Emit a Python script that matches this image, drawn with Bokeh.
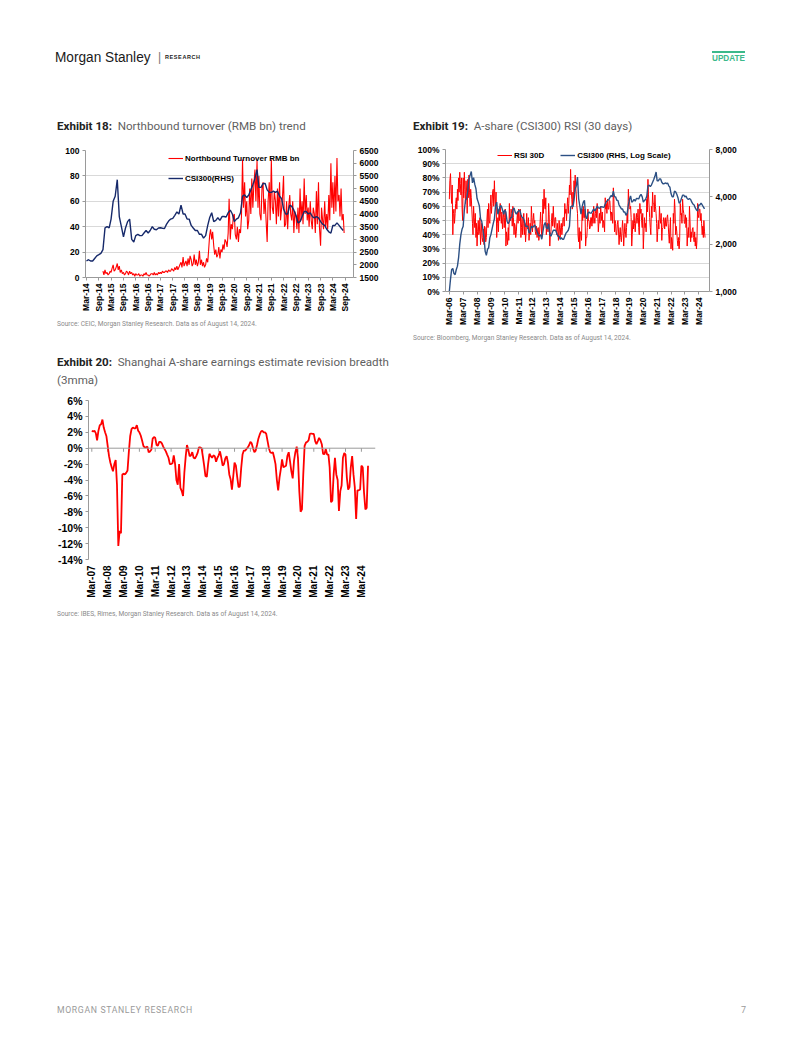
import math
from datetime import datetime
import pandas as pd
from bokeh.plotting import figure
from bokeh.models import (Range1d, LinearAxis, LogAxis, LogScale, FixedTicker,
                          DatetimeTickFormatter, NumeralTickFormatter, PrintfTickFormatter,
                          Legend, LegendItem, Span, Div, Spacer)
from bokeh.layouts import column, row
from bokeh.embed import file_html
from bokeh.resources import INLINE

# ---------------- DATA ----------------
# CSI300 index level, monthly, Mar-2006 .. Aug-2024
csi300_start = "2006-03-01"
csi300 = [
    1000, 1200, 1380, 1400, 1300, 1280, 1380, 1450, 1650, 2000,                  # 2006 Mar-Dec
    2300, 2500, 2600, 3300, 3800, 3900, 4400, 5200, 5500, 5800, 4900, 5300,      # 2007
    4800, 4500, 3900, 3700, 3500, 2900, 2800, 2500, 2200, 1800, 1700, 1850,      # 2008
    1900, 2200, 2300, 2500, 2700, 2900, 3500, 3700, 3100, 3300, 3500, 3500,      # 2009
    3300, 3100, 3300, 3200, 2800, 2700, 2800, 2950, 2950, 3300, 3400, 3200,      # 2010
    3100, 3200, 3250, 3300, 3100, 2950, 2950, 2800, 2600, 2600, 2600, 2350,      # 2011
    2400, 2600, 2550, 2600, 2650, 2500, 2400, 2300, 2250, 2300, 2150, 2400,      # 2012
    2650, 2750, 2550, 2500, 2700, 2300, 2250, 2350, 2450, 2450, 2450, 2350,      # 2013
    2250, 2250, 2150, 2200, 2150, 2150, 2250, 2350, 2400, 2450, 2600, 3450,      # 2014
    3500, 3450, 3800, 4500, 4700, 5350, 3900, 3500, 3100, 3450, 3700, 3800,      # 2015
    3000, 2900, 3150, 3200, 3150, 3150, 3250, 3350, 3250, 3350, 3500, 3400,      # 2016
    3380, 3450, 3460, 3440, 3430, 3600, 3720, 3800, 3830, 3950, 4080, 4000,      # 2017
    4350, 4000, 4000, 3800, 3800, 3550, 3450, 3350, 3350, 3200, 3200, 3050,      # 2018
    3150, 3550, 3850, 4050, 3700, 3750, 3850, 3750, 3900, 3900, 3880, 4050,      # 2019
    4150, 4000, 3700, 3800, 3850, 4050, 4700, 4750, 4650, 4750, 4950, 5150,      # 2020
    5400, 5750, 5050, 5050, 5200, 5200, 4950, 4850, 4850, 4900, 4850, 4900,      # 2021
    4700, 4600, 4200, 4000, 4000, 4350, 4300, 4150, 3950, 3650, 3700, 3900,      # 2022
    4100, 4100, 4000, 4050, 3900, 3850, 3900, 3850, 3700, 3600, 3550, 3400,      # 2023
    3300, 3250, 3550, 3550, 3650, 3550, 3450, 3350,                              # 2024 Jan-Aug
]

# Northbound turnover (RMB bn), semi-monthly, Nov-2014 .. Aug-2024
nb_start = "2014-11-01"
nb_turnover = [
    5, 2, 6, 3,                                                                                  # 2014 Nov-Dec
    4, 2, 3, 5, 4, 7, 10, 5, 6, 8, 11, 6, 9, 4, 6, 3, 4, 2, 3, 5, 4, 2, 5, 3,                      # 2015
    4, 2, 3, 1, 3, 2, 2, 3, 1, 2, 2, 1, 3, 2, 4, 2, 2, 1, 2, 3, 3, 2, 4, 2,                        # 2016
    3, 2, 4, 3, 4, 3, 5, 4, 4, 5, 5, 4, 6, 5, 5, 7, 6, 5, 8, 6, 9, 6, 8, 10,                       # 2017
    12, 8, 16, 9, 11, 13, 9, 15, 10, 17, 14, 9, 11, 18, 10, 14, 9, 12, 21, 10, 14, 9, 12, 8,     # 2018
    10, 15, 12, 22, 33, 38, 30, 36, 25, 18, 22, 16, 18, 24, 15, 22, 20, 26, 22, 30, 28, 24, 35, 62,  # 2019
    30, 42, 38, 48, 50, 34, 30, 40, 28, 38, 35, 48, 93, 55, 75, 48, 60, 38, 45, 70, 50, 78, 55, 72,  # 2020
    85, 60, 92, 55, 80, 50, 45, 70, 75, 50, 62, 45, 28, 60, 75, 45, 93, 55, 50, 68, 60, 42, 70, 48,  # 2021
    75, 45, 55, 65, 80, 40, 42, 60, 38, 55, 65, 50, 45, 60, 35, 52, 48, 38, 55, 35, 70, 45, 60, 42,  # 2022
    78, 50, 65, 45, 55, 40, 60, 45, 38, 55, 50, 35, 68, 42, 75, 40, 25, 55, 45, 38, 60, 40, 50, 38,  # 2023
    65, 45, 90, 55, 75, 50, 80, 52, 94, 60, 65, 48, 70, 45, 50, 35,                                  # 2024 Jan-Aug
]

# CSI300 RSI (30 days), %, semi-monthly, Mar-2006 .. Aug-2024
rsi_start = "2006-03-01"
rsi_30d = [
    65, 78, 83, 70, 62, 75, 40, 55, 58, 48, 55, 62, 66, 58, 72, 64, 80, 70, 84, 76,                      # 2006 Mar-Dec
    68, 80, 58, 50, 80, 66, 84, 72, 62, 78, 70, 55, 79, 66, 82, 70, 60, 72, 66, 58, 48, 40, 60, 52,      # 2007
    45, 55, 38, 48, 32, 42, 50, 40, 42, 52, 33, 40, 48, 38, 35, 44, 33, 46, 45, 35, 38, 50, 58, 45,      # 2008
    62, 50, 48, 60, 68, 55, 62, 70, 72, 60, 78, 65, 60, 70, 38, 48, 52, 42, 58, 50, 62, 54, 48, 56,      # 2009
    44, 52, 55, 45, 52, 58, 32, 42, 38, 33, 45, 36, 62, 50, 50, 58, 55, 46, 60, 52, 40, 48, 46, 38,      # 2010
    42, 50, 56, 48, 58, 50, 50, 58, 38, 45, 52, 40, 48, 55, 40, 48, 35, 42, 55, 45, 44, 52, 36, 42,      # 2011
    48, 40, 60, 52, 42, 50, 55, 48, 50, 42, 40, 46, 38, 44, 45, 36, 40, 47, 56, 48, 38, 44, 65, 55,      # 2012
    72, 60, 58, 66, 40, 48, 48, 42, 62, 54, 32, 40, 42, 50, 55, 46, 60, 50, 45, 52, 52, 44, 40, 48,      # 2013
    42, 36, 50, 44, 38, 45, 48, 40, 45, 52, 52, 46, 62, 55, 58, 50, 60, 66, 55, 62, 75, 68, 86, 72,      # 2014
    65, 58, 70, 62, 78, 70, 82, 74, 68, 60, 55, 40, 35, 45, 30, 42, 42, 36, 58, 50, 60, 52, 52, 58,      # 2015
    32, 38, 38, 45, 58, 50, 50, 44, 45, 52, 52, 46, 55, 48, 60, 52, 48, 55, 58, 52, 62, 56, 42, 48,      # 2016
    55, 48, 60, 54, 50, 56, 45, 50, 48, 42, 66, 58, 62, 55, 65, 58, 58, 64, 64, 57, 50, 56, 55, 48,      # 2017
    73, 65, 42, 50, 48, 40, 40, 47, 50, 44, 33, 40, 45, 38, 35, 42, 50, 44, 32, 40, 48, 42, 38, 45,      # 2018
    55, 48, 72, 64, 65, 58, 60, 52, 32, 40, 50, 44, 55, 48, 42, 50, 55, 48, 52, 58, 45, 40, 62, 55,      # 2019
    58, 50, 45, 55, 30, 40, 52, 45, 48, 42, 65, 56, 79, 68, 60, 52, 45, 40, 60, 52, 70, 62, 62, 56,      # 2020
    68, 60, 55, 48, 35, 42, 50, 44, 60, 52, 48, 55, 36, 44, 45, 52, 50, 44, 52, 46, 46, 52, 54, 48,      # 2021
    40, 34, 45, 52, 30, 38, 35, 29, 55, 48, 65, 58, 40, 46, 42, 36, 32, 38, 30, 36, 62, 54, 55, 48,      # 2022
    65, 58, 55, 48, 48, 54, 45, 52, 32, 40, 45, 38, 60, 50, 35, 42, 38, 44, 45, 38, 35, 42, 32, 38,      # 2023
    30, 36, 62, 54, 52, 58, 58, 50, 55, 48, 40, 46, 38, 50, 42, 38,                                      # 2024 Jan-Aug
]

# Shanghai A-share earnings estimate revision breadth (3mma), %, monthly, Mar-2007 .. Aug-2024
rev_start = "2007-03-01"
revision_breadth = [
    2.2, 2.1, 2.2, 1.9, 1.0, 2.2, 2.9, 3.0, 3.6, 2.6,                          # 2007 Mar-Dec
    2.0, 1.5, 0.3, -1.0, -1.8, -2.4, -2.9, -2.0, -1.5, -4.6, -12.3, -10.4,      # 2008
    -10.7, -3.3, -3.2, -3.3, -3.1, -2.8, -0.5, 1.5, 2.4, 2.6, 2.5, 2.5,         # 2009
    2.9, 2.2, 2.0, 1.6, 1.0, 0.3, 0.1, 0.1, 0.2, -0.5, -0.4, -0.2,              # 2010
    1.2, 1.4, 1.3, 0.4, 0.3, 0.8, 0.8, 0.6, 0.2, -0.1, -0.4, -0.8,              # 2011
    -1.2, -2.0, -2.0, -1.9, -0.9, -2.0, -4.0, -4.6, -2.0, -5.0, -5.4, -6.0,     # 2012
    -3.0, -1.0, 0.4, -0.2, -1.0, -0.9, -0.5, -1.2, -1.3, -1.0, -0.6, 0.1,       # 2013
    0.1, 0.0, -1.0, -2.2, -3.5, -3.6, -2.0, -0.7, -1.0, -1.2, -0.9, -1.0,       # 2014
    -1.7, -1.2, -0.9, -0.4, -1.2, -2.2, -2.0, -1.3, -1.0, -1.8, -3.3, -3.9,     # 2015
    -5.2, -3.5, -1.8, -2.2, -3.6, -4.9, -4.8, -2.5, -0.8, -0.3, -0.3, -0.1,     # 2016
    0.1, 0.4, 0.8, 0.6, 0.0, -0.5, -0.3, 0.4, 1.2, 1.7, 2.1, 2.2,               # 2017
    2.0, 2.0, 1.8, 0.9, 0.0, -0.5, -0.6, -0.5, -1.2, -2.0, -4.0, -5.3,          # 2018
    -3.7, -2.6, -1.4, -2.4, -2.3, -2.2, -1.0, -0.5, -1.7, -2.9, -3.8, -1.6,     # 2019
    -0.5, 0.2, -1.2, -5.4, -8.0, -7.7, -3.3, 0.3, 0.7, 0.8, 1.0, 1.8,           # 2020
    1.85, 1.8, 1.8, 0.9, 0.5, 0.9, 1.3, 1.0, 0.5, -0.7, -0.75, -0.1,            # 2021
    -0.8, -0.8, -2.4, -6.8, -6.6, -3.3, -1.2, -3.3, -4.0, -7.9, -5.4, -4.7,     # 2022
    -1.2, -0.6, -0.8, -3.7, -5.2, -4.9, -2.4, -1.0, -3.3, -4.9, -8.9, -5.3,     # 2023
    -5.3, -5.2, -2.2, -2.4, -5.6, -7.7, -7.5, -2.2,                             # 2024 Jan-Aug
]

ticks18_labels = [f"{y}-{m:02d}-01" for y in range(2014, 2025) for m in (3, 9)]
ticks19_labels = [f"{y}-03-01" for y in range(2006, 2025)]
ticks20_labels = [f"{y}-03-01" for y in range(2007, 2025)]

# ---------------- HELPERS ----------------
RED = "#ff0000"
NAVY = "#16296a"
STEEL = "#2c5084"
AXIS_C = "#9a9a9a"
GRID_C = "#d9d9d9"
FONT = "Liberation Sans"


def ms(d):
    return int(pd.Timestamp(d).timestamp() * 1000)


def dt_formatter():
    f = "%b-%y"
    return DatetimeTickFormatter(days=f, months=f, years=f)


def style_axis(ax, size):
    ax.major_label_text_font = FONT
    ax.major_label_text_font_style = "bold"
    ax.major_label_text_font_size = size
    ax.major_label_text_color = "#000000"
    ax.axis_line_color = AXIS_C
    ax.major_tick_line_color = AXIS_C
    ax.major_tick_in = 0
    ax.major_tick_out = 3
    ax.minor_tick_line_color = None
    ax.major_label_standoff = 3


def base_fig(w, h, xr, yr, bl, br, bt, bb, **kw):
    p = figure(width=w, height=h, x_axis_type="datetime", x_range=xr, y_range=yr,
               output_backend="svg", toolbar_location=None,
               min_border_left=bl, min_border_right=br, min_border_top=bt, min_border_bottom=bb,
               **kw)
    p.outline_line_color = None
    p.xgrid.visible = False
    p.background_fill_color = "white"
    p.border_fill_color = "white"
    return p


def legend_style(leg, size):
    leg.border_line_color = None
    leg.background_fill_alpha = 0
    leg.padding = 0
    leg.margin = 0
    leg.glyph_width = 15
    leg.glyph_height = 12
    leg.label_height = 12
    leg.label_standoff = 2
    leg.label_text_font = FONT
    leg.label_text_font_style = "bold"
    leg.label_text_font_size = size
    leg.label_text_color = "#000000"


# ---------------- EXHIBIT 18 ----------------
csi_dates = pd.date_range(csi300_start, periods=len(csi300), freq="MS")
csi18_idx = csi_dates >= pd.Timestamp("2014-03-01")
csi18_dates = csi_dates[csi18_idx]
csi18_vals = [v for v, k in zip(csi300, csi18_idx) if k]
nb_dates = pd.date_range(nb_start, periods=len(nb_turnover), freq="SMS")

p18 = base_fig(400, 178, Range1d(datetime(2014, 2, 15), datetime(2025, 1, 1)), Range1d(0, 100),
               85, 47, 10, 41, extra_y_ranges={"r": Range1d(1500, 6500)})
r_nb = p18.line(nb_dates, nb_turnover, line_color=RED, line_width=1.1)
r_csi = p18.line(csi18_dates, csi18_vals, y_range_name="r", line_color=NAVY, line_width=1.4)
p18.yaxis.ticker = FixedTicker(ticks=list(range(0, 101, 20)))
p18.ygrid.ticker = FixedTicker(ticks=list(range(0, 101, 20)))
p18.ygrid.grid_line_color = GRID_C
ax_r18 = LinearAxis(y_range_name="r", ticker=FixedTicker(ticks=list(range(1500, 6501, 500))))
p18.add_layout(ax_r18, "right")
p18.xaxis.ticker = FixedTicker(ticks=[ms(t) for t in ticks18_labels])
p18.xaxis.formatter = dt_formatter()
p18.xaxis.major_label_orientation = math.pi / 2
for ax in [p18.xaxis[0], p18.yaxis[0], ax_r18]:
    style_axis(ax, "8.5px")
leg18 = Legend(items=[LegendItem(label="Northbound Turnover RMB bn", renderers=[r_nb]),
                      LegendItem(label="CSI300(RHS)", renderers=[r_csi])],
               location=(83, 93), spacing=8)
legend_style(leg18, "8px")
p18.add_layout(leg18)

# ---------------- EXHIBIT 19 ----------------
rsi_dates = pd.date_range(rsi_start, periods=len(rsi_30d), freq="SMS")
p19 = base_fig(402, 192, Range1d(datetime(2005, 11, 20), datetime(2024, 12, 10)), Range1d(0, 100),
               45, 93, 9, 41, extra_y_ranges={"r": Range1d(1000, 8000)},
               extra_y_scales={"r": LogScale()})
r_rsi = p19.line(rsi_dates, rsi_30d, line_color=RED, line_width=1.0)
r_csi19 = p19.line(csi_dates, csi300, y_range_name="r", line_color=STEEL, line_width=1.4)
p19.yaxis.ticker = FixedTicker(ticks=list(range(0, 101, 10)))
p19.yaxis.formatter = PrintfTickFormatter(format="%d%%")
p19.ygrid.ticker = FixedTicker(ticks=list(range(0, 101, 10)))
p19.ygrid.grid_line_color = GRID_C
ax_r19 = LogAxis(y_range_name="r", ticker=FixedTicker(ticks=[1000, 2000, 4000, 8000]),
                 formatter=NumeralTickFormatter(format="0,0"))
p19.add_layout(ax_r19, "right")
p19.xaxis.ticker = FixedTicker(ticks=[ms(t) for t in ticks19_labels])
p19.xaxis.formatter = dt_formatter()
p19.xaxis.major_label_orientation = math.pi / 2
for ax in [p19.xaxis[0], p19.yaxis[0], ax_r19]:
    style_axis(ax, "8.5px")
leg19 = Legend(items=[LegendItem(label="RSI 30D", renderers=[r_rsi]),
                      LegendItem(label="CSI300 (RHS, Log Scale)", renderers=[r_csi19])],
               location=(52, 130), orientation="horizontal", spacing=16)
legend_style(leg19, "8px")
p19.add_layout(leg19)

# ---------------- EXHIBIT 20 ----------------
rev_dates = pd.date_range(rev_start, periods=len(revision_breadth), freq="MS")
p20 = base_fig(400, 212, Range1d(datetime(2006, 12, 15), datetime(2025, 1, 20)), Range1d(-14, 6),
               88, 25, 8, 45)
p20.ygrid.visible = False
p20.add_layout(Span(location=0, dimension="width", line_color=AXIS_C, line_width=1))
tick20_dates = pd.to_datetime(ticks20_labels)
p20.segment(x0=tick20_dates, y0=[0] * len(tick20_dates), x1=tick20_dates,
            y1=[-0.45] * len(tick20_dates), line_color=AXIS_C, line_width=1)
p20.line(rev_dates, revision_breadth, line_color=RED, line_width=1.8)
p20.yaxis.ticker = FixedTicker(ticks=list(range(-14, 7, 2)))
p20.yaxis.formatter = PrintfTickFormatter(format="%d%%")
p20.xaxis.ticker = FixedTicker(ticks=[ms(t) for t in ticks20_labels])
p20.xaxis.formatter = dt_formatter()
p20.xaxis.major_label_orientation = math.pi / 2
style_axis(p20.xaxis[0], "10px")
style_axis(p20.yaxis[0], "10.5px")
p20.xaxis.axis_line_color = None
p20.xaxis.major_tick_line_color = None

# ---------------- TEXT BLOCKS ----------------
header = Div(width=802, height=108, margin=0, text="""
<div style="position:relative;width:802px;height:108px;">
  <span style="position:absolute;left:55px;top:48px;font-family:'Liberation Sans';font-size:15.5px;line-height:18px;color:#1a1a1a;white-space:nowrap;transform:scaleX(0.88);transform-origin:left center;">Morgan Stanley</span>
  <span style="position:absolute;left:158px;top:49px;font-family:'Liberation Sans';font-size:12px;line-height:16px;color:#777;">|</span>
  <span style="position:absolute;left:165px;top:53px;font-family:'Liberation Sans';font-size:5.5px;font-weight:bold;letter-spacing:0.6px;line-height:8px;color:#222;">RESEARCH</span>
  <div style="position:absolute;left:712px;top:51px;width:33px;height:2px;background:#3cb98b;"></div>
  <span style="position:absolute;left:712px;top:53px;font-family:'Liberation Sans';font-size:9.5px;font-weight:bold;line-height:10px;color:#3cb98b;white-space:nowrap;transform:scaleX(0.86);transform-origin:left center;">UPDATE</span>
</div>""")

TITLE_CSS = "font-family:Roboto;font-size:11.6px;line-height:15px;color:#5f5f5f;white-space:nowrap;"
title18 = Div(width=400, height=32, margin=0, text=f"""<div style="padding:10.5px 0 0 57px;{TITLE_CSS}"><b style="color:#222">Exhibit 18:</b>&nbsp; Northbound turnover (RMB bn) trend</div>""")
title19 = Div(width=402, height=32, margin=0, text=f"""<div style="padding:10.5px 0 0 13px;{TITLE_CSS}"><b style="color:#222">Exhibit 19:</b>&nbsp; A-share (CSI300) RSI (30 days)</div>""")
title20 = Div(width=400, height=44, margin=0, text=f"""<div style="padding:5px 0 0 57px;{TITLE_CSS}line-height:18px;"><b style="color:#222">Exhibit 20:</b>&nbsp; Shanghai A-share earnings estimate revision breadth<br>(3mma)</div>""")

SRC_CSS = "font-family:Roboto;font-size:6.6px;line-height:9px;color:#8a8a8a;white-space:nowrap;position:relative;"
src18 = Div(width=400, height=30, margin=0, text=f"""<div style="padding:0 0 0 57px;top:-4.5px;{SRC_CSS}">Source: CEIC, Morgan Stanley Research. Data as of August 14, 2024.</div>""")
src19 = Div(width=402, height=16, margin=0, text=f"""<div style="padding:0 0 0 13px;top:-4.5px;{SRC_CSS}">Source: Bloomberg, Morgan Stanley Research. Data as of August 14, 2024.</div>""")
src20 = Div(width=400, height=16, margin=0, text=f"""<div style="padding:1.5px 0 0 57px;{SRC_CSS}">Source: IBES, Rimes, Morgan Stanley Research. Data as of August 14, 2024.</div>""")

footer = Div(width=802, height=20, margin=0, text="""
<div style="position:relative;width:802px;height:20px;">
  <span style="position:absolute;left:57px;top:5px;font-family:Roboto;font-size:8.7px;letter-spacing:0.65px;line-height:10px;color:#9a9a9a;white-space:nowrap;">MORGAN STANLEY RESEARCH</span>
  <span style="position:absolute;left:741px;top:5px;font-family:Roboto;font-size:9px;line-height:10px;color:#9a9a9a;">7</span>
</div>""")

layout = column(
    header,
    row(title18, title19),
    row(column(p18, src18), column(p19, src19)),
    title20,
    p20,
    src20,
    Spacer(width=802, height=380, margin=0),
    footer,
)

open("out.html", "w").write(file_html(layout, INLINE, title="Exhibits 18-20"))
